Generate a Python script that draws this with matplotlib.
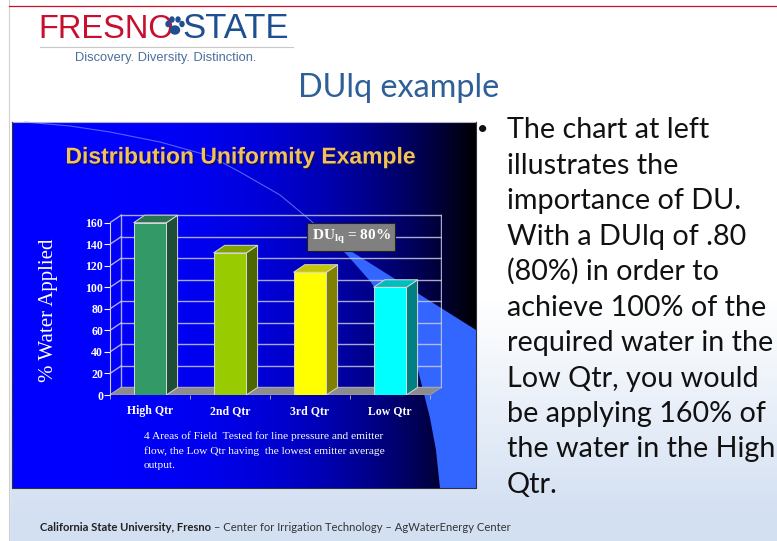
import matplotlib
matplotlib.use('Agg')
import matplotlib.pyplot as plt
import matplotlib.patheffects as pe
from matplotlib.patches import Polygon, Ellipse
import numpy as np

# chart data
categories = ['High Qtr', '2nd Qtr', '3rd Qtr', 'Low Qtr']
water_applied = [160, 132, 114, 100]
y_ticks = [0, 20, 40, 60, 80, 100, 120, 140, 160]
front_colors = ['#339966', '#99cc00', '#ffff00', '#00ffff']
side_colors = ['#1f4d36', '#4d6600', '#808000', '#008080']
top_colors = ['#2b7350', '#80a300', '#c4c400', '#00bdbd']

note_lines = ['4 Areas of Field  Tested for line pressure and emitter',
              'flow, the Low Qtr having  the lowest emitter average',
              'output.']
bullet_lines = ['The chart at left', 'illustrates the', 'importance of DU.',
                'With a DUlq of .80', '(80%) in order to', 'achieve 100% of the',
                'required water in the', 'Low Qtr, you would', 'be applying 160% of',
                'the water in the High', 'Qtr.']

plt.rcParams['font.family'] = 'Liberation Serif'
plt.rcParams['mathtext.fontset'] = 'custom'
plt.rcParams['mathtext.rm'] = 'Liberation Serif:bold'
plt.rcParams['mathtext.bf'] = 'Liberation Serif:bold'

W, H = 777, 541
fig = plt.figure(figsize=(W / 100, H / 100), dpi=100)

# background layer in pixel coords
bg = fig.add_axes([0, 0, 1, 1])
rows = np.arange(H)
t = np.clip((rows - 300) / 210.0, 0, 1)
grad = np.array([1, 1, 1]) * (1 - t[:, None]) + np.array([0.83, 0.88, 0.95]) * t[:, None]
bg.imshow(grad[:, None, :], extent=(0, W, H, 0), aspect='auto', zorder=0)
bg.fill_between([0, 8.5], 0, H, color='white', zorder=1)
bg.plot([8.5, 8.5], [0, H], color='#d0d0d0', lw=0.8, zorder=2)
bg.plot([9, W], [5.5, 5.5], color='#c8102e', lw=0.9, zorder=2)

# logo
bg.text(38, 38, 'FRESNO', family='Liberation Sans', fontsize=23.5, color='#c8102e',
        va='baseline', ha='left', zorder=3)
bg.text(182, 38, 'STATE', family='Liberation Sans', fontsize=25, color='#1d4f91',
        va='baseline', ha='left', zorder=3)
bg.add_patch(Ellipse((175, 30), 9, 8, color='#1d4f91', zorder=4))
for cx, cy in [(168, 24), (172, 19.5), (178, 19.5), (182, 24)]:
    bg.add_patch(Ellipse((cx, cy), 4, 5, color='#1d4f91', zorder=4))
bg.plot([40, 293], [46.5, 46.5], color='#c8c8c8', lw=0.8, zorder=3)
bg.text(166, 58, 'Discovery. Diversity. Distinction.', family='Liberation Sans',
        fontsize=9.3, color='#4b6e9e', ha='center', va='center', zorder=3)

# slide title
bg.text(298, 97, 'DUlq example', family='Lato', fontsize=23.3, color='#2e5f96',
        ha='left', va='baseline', zorder=3)

# chart panel
cols = np.linspace(0, 1, 464)
panel = np.zeros((1, 464, 3))
panel[0, :, 2] = 1 - cols ** 3
bg.imshow(panel, extent=(12, 476, 488, 122), aspect='auto', zorder=2)
wedge = [(330, 238), (476, 330), (476, 488), (440, 488), (436, 450), (430, 418),
         (417, 366), (395, 318), (370, 281), (348, 256)]
bg.add_patch(Polygon(wedge, closed=True, fc='#3366ff', ec='none', zorder=3))
curve = np.array([(25, 122), (70, 126), (110, 132), (160, 142), (210, 156),
                  (240, 172), (280, 195), (310, 220), (330, 238)])
bg.plot(curve[:, 0], curve[:, 1], color='#7090ff', lw=0.8, alpha=0.7, zorder=3)
bg.plot([12, 476], [122, 122], color='#b0b0d0', lw=0.8, zorder=4)
bg.plot([476, 476, 12, 12], [122, 488, 488, 122], color='#303040', lw=0.8, zorder=4)

bg.text(240, 157, 'Distribution Uniformity Example', family='Liberation Sans',
        fontweight='bold', fontsize=16.5, color='#f3c15a', ha='center', va='center',
        zorder=5, path_effects=[pe.withSimplePatchShadow(offset=(1, -1),
                                                         shadow_rgbFace='#101040', alpha=0.8)])
for i, line in enumerate(note_lines):
    bg.text(144, 436 + 14.7 * i, line, fontsize=8.2, color='white',
            ha='left', va='center', zorder=5)

# right-hand bullet text
bg.text(483, 129, '\u2022', family='Lato', fontsize=14, color='#111111',
        ha='center', va='center', zorder=3)
for i, line in enumerate(bullet_lines):
    bg.text(507, 138 + 35.5 * i, line, family='Lato', fontsize=20.7, color='#111111',
            ha='left', va='baseline', zorder=3)

# footer
f1 = bg.text(40, 531, 'California State University, Fresno', family='Lato',
             fontweight='bold', fontsize=8.15, color='#222222', va='baseline', zorder=3)
bg.annotate(' \u2013 Center for Irrigation Technology \u2013 AgWaterEnergy Center',
            xy=(1, 0), xycoords=f1, va='bottom', ha='left', family='Lato',
            fontsize=8.15, color='#333333', zorder=3)

bg.set_xlim(0, W)
bg.set_ylim(H, 0)
bg.axis('off')

# chart axes (fake 3D column chart)
px_x = 80.0
px_y = 172.3 / 160
xlim = (-0.5, 3.65)
ylim = (0, 172)
ax = fig.add_axes([110 / W, (H - 395) / H,
                   (xlim[1] - xlim[0]) * px_x / W, (ylim[1] - ylim[0]) * px_y / H])
ax.set_xlim(*xlim)
ax.set_ylim(*ylim)
ax.patch.set_visible(False)

xs = np.arange(len(categories))
dx, dy = 0.14, 7
xl, xr = -0.5, 3.5
grid_kw = dict(color='#c8c8e0', lw=1.0, alpha=0.85, zorder=1)
for v in y_ticks:
    ax.plot([xl + dx, xr + dx], [v + dy, v + dy], **grid_kw)
    ax.plot([xl, xl + dx], [v, v + dy], **grid_kw)
ax.plot([xl + dx, xl + dx], [dy, 160 + dy], **grid_kw)
ax.plot([xr + dx, xr + dx], [dy, 160 + dy], **grid_kw)
ax.add_patch(Polygon([(xl, 0), (xr, 0), (xr + dx, dy), (xl + dx, dy)], closed=True,
                     fc='#8c8c8c', ec='#a8a8a8', lw=0.5, zorder=2))

w = 0.41
ax.bar(xs, water_applied, width=w, color=front_colors, edgecolor='#d8d8d8', lw=0.7, zorder=4)
for x, v, sc, tc in zip(xs, water_applied, side_colors, top_colors):
    ax.add_patch(Polygon([(x + w / 2, 0), (x + w / 2 + dx, dy), (x + w / 2 + dx, v + dy),
                          (x + w / 2, v)], closed=True, fc=sc, ec='#d8d8d8', lw=0.7, zorder=3))
    ax.add_patch(Polygon([(x - w / 2, v), (x + w / 2, v), (x + w / 2 + dx, v + dy),
                          (x - w / 2 + dx, v + dy)], closed=True, fc=tc, ec='#d8d8d8',
                         lw=0.7, zorder=3))

for s in ['top', 'right', 'bottom']:
    ax.spines[s].set_visible(False)
ax.spines['left'].set_bounds(0, 160)
ax.spines['left'].set_color('#d0d0e0')
ax.set_yticks(y_ticks)
ax.tick_params(axis='y', colors='white', length=4, width=0.8, pad=1, labelsize=8.5)
ax.set_xticks(xs, categories)
ax.set_xticks([-0.5, 0.5, 1.5, 2.5, 3.5], minor=True)
ax.tick_params(axis='x', which='major', length=0, pad=7, labelsize=8.5, colors='white')
ax.tick_params(axis='x', which='minor', length=3, color='#c0c0d0')
for lab in ax.get_yticklabels() + ax.get_xticklabels():
    lab.set_fontweight('bold')
ax.set_ylabel('% Water Applied', fontsize=15, color='white')
ax.yaxis.set_label_coords((58 - 110) / ((xlim[1] - xlim[0]) * px_x),
                          (395 - 310) / ((ylim[1] - ylim[0]) * px_y))

ax.text(351, 237, r'DU$_{\mathbf{lq}}$ = 80%', transform=bg.transData, fontsize=11,
        fontweight='bold', color='white', ha='center', va='center', zorder=6,
        bbox=dict(boxstyle='square,pad=0.3', fc='#808080', ec='#202020', lw=0.8))

fig.savefig('out.png', dpi=100)
